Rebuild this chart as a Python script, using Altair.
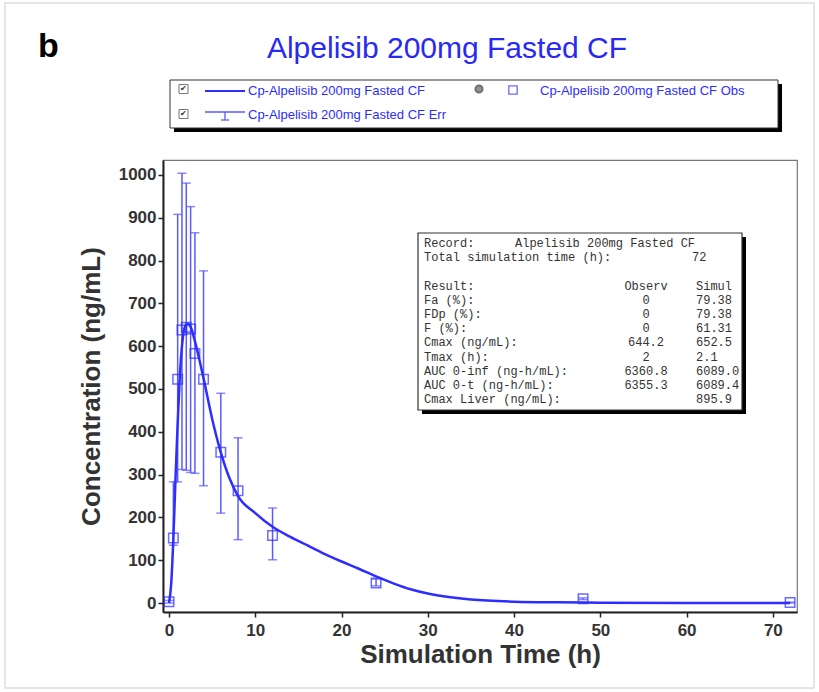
import altair as alt
import pandas as pd

# ---------------- data ----------------
obs_time = [0, 0.5, 1, 1.5, 2, 2.5, 3, 4, 6, 8, 12, 24, 48, 72]
obs_conc = [3, 152, 523, 638, 644, 640, 583, 523, 352, 262, 158, 47, 10, 1]
obs_lo   = [0, 135, 283, 312, 310, 305, 303, 274, 210, 148, 101, 40, 8, 0]
obs_hi   = [6, 283, 908, 1004, 981, 926, 865, 776, 490, 386, 222, 56, 12, 2]

sim_time = [0, 0.25, 0.5, 0.75, 1, 1.25, 1.5, 1.75, 2.1, 2.5, 3, 3.5, 4, 5, 6, 7, 8,
            10, 12, 14, 16, 18, 20, 22, 24, 26, 28, 30, 32, 35, 40, 45, 50, 60, 72]
sim_conc = [0, 45, 150, 290, 420, 530, 600, 640, 652.5, 645, 612, 570, 525, 430, 352, 292, 250,
            210, 178, 155, 135, 115, 97, 80, 62, 46, 32, 22, 15, 8, 3, 1.5, 0.8, 0.3, 0.1]

x_ticks = [0, 10, 20, 30, 40, 50, 60, 70]
y_ticks = [0, 100, 200, 300, 400, 500, 600, 700, 800, 900, 1000]

title_text = "Alpelisib 200mg Fasted CF"
legend_labels = ["Cp-Alpelisib 200mg Fasted CF",
                 "Cp-Alpelisib 200mg Fasted CF Obs",
                 "Cp-Alpelisib 200mg Fasted CF Err"]

info_labels = ["Record:", "Total simulation time (h):", "", "Result:", "Fa (%):", "FDp (%):",
               "F (%):", "Cmax (ng/mL):", "Tmax (h):", "AUC 0-inf (ng-h/mL):",
               "AUC 0-t (ng-h/mL):", "Cmax Liver (ng/mL):"]
info_obs = ["", "", "", "Observ", "0", "0", "0", "644.2", "2", "6360.8", "6355.3", ""]
info_sim = ["", "", "", "Simul", "79.38", "79.38", "61.31", "652.5", "2.1", "6089.0", "6089.4", "895.9"]
info_record = "Alpelisib 200mg Fasted CF"
info_total = "72"

# ---------------- styling ----------------
BLUE = "#2d2dff"
ERR = "#5a5aff"
W, H = 634, 452
FONT = "Liberation Sans"
MONO = "Liberation Mono"

obs_df = pd.DataFrame({"t": obs_time, "c": obs_conc, "lo": obs_lo, "hi": obs_hi})
sim_df = pd.DataFrame({"t": sim_time, "c": sim_conc})
dummy = pd.DataFrame({"d": [0]})

xs = alt.Scale(domain=[-0.7, 72.8], nice=False, zero=False)
ys = alt.Scale(domain=[-21, 1035], nice=False, zero=False)

xaxis = alt.Axis(values=x_ticks, title="Simulation Time (h)", grid=False, tickSize=5,
                 labelFontSize=17, labelFontWeight="bold", labelColor="#333", labelPadding=5,
                 titleFontSize=26, titleFontWeight="bold", titleColor="#333", titlePadding=3,
                 domainColor="#222", domainWidth=2, tickColor="#222", tickWidth=1.5,
                 labelFont=FONT, titleFont=FONT, format="d")
yaxis = alt.Axis(values=y_ticks, title="Concentration (ng/mL)", grid=False, tickSize=5,
                 labelFontSize=17, labelFontWeight="bold", labelColor="#333", labelPadding=2,
                 titleFontSize=26, titleFontWeight="bold", titleColor="#333", titlePadding=14,
                 domainColor="#222", domainWidth=2, tickColor="#222", tickWidth=1.5,
                 labelFont=FONT, titleFont=FONT, format="d")


def X(f):
    return alt.X(f, type="quantitative", scale=xs, axis=xaxis)


def Y(f):
    return alt.Y(f, type="quantitative", scale=ys, axis=yaxis)


line = alt.Chart(sim_df).mark_line(color=BLUE, strokeWidth=2.5, interpolate="monotone").encode(
    x=X("t"), y=Y("c"))
err = alt.Chart(obs_df).mark_rule(color=ERR, strokeWidth=1.5).encode(
    x=X("t"), y=Y("lo"), y2="hi")
cap_lo = alt.Chart(obs_df).mark_tick(color=ERR, orient="horizontal", size=9, thickness=1.5).encode(
    x=X("t"), y=Y("lo"))
cap_hi = alt.Chart(obs_df).mark_tick(color=ERR, orient="horizontal", size=9, thickness=1.5).encode(
    x=X("t"), y=Y("hi"))
pts = alt.Chart(obs_df).mark_point(shape="square", filled=False, size=90, strokeWidth=1.5,
                                   color=BLUE).encode(x=X("t"), y=Y("c"))


def rect(x1, x2, y1, y2, fill="white", stroke=None, sw=1.0, opacity=1.0):
    kw = dict(fill=fill, opacity=opacity)
    if stroke:
        kw.update(stroke=stroke, strokeWidth=sw)
    return alt.Chart(dummy).mark_rect(**kw).encode(
        x=alt.value(x1), x2=alt.value(x2), y=alt.value(y1), y2=alt.value(y2))


def seg(x1, x2, y1, y2, color=BLUE, sw=2.0):
    return alt.Chart(dummy).mark_rule(color=color, strokeWidth=sw).encode(
        x=alt.value(x1), x2=alt.value(x2), y=alt.value(y1), y2=alt.value(y2))


def txt(s, x, y, size=13, color=BLUE, align="left", baseline="middle", font=FONT,
        weight="normal"):
    return alt.Chart(dummy).mark_text(text=s, fontSize=size, color=color, align=align,
                                      baseline=baseline, font=font, fontWeight=weight).encode(
        x=alt.value(x), y=alt.value(y))


# outer faint border
deco = [rect(-158, 651, -157, 528, fill="transparent", stroke="#dddddd", sw=1.5)]

# title + panel letter
deco += [txt(title_text, 284, -111, size=30, color="#2929f5", align="center"),
         txt("b", -125, -113, size=34, color="black", weight="bold")]

# legend box
deco += [rect(11, 619, -76, -28, fill="black"),
         rect(7, 615, -80, -32, fill="white", stroke="#333", sw=1)]
# checkboxes
for cy in (-71, -46):
    deco += [rect(16, 25, cy - 4.5, cy + 4.5, fill="white", stroke="#777", sw=1),
             txt("\u2714", 20.5, cy, size=8, color="#333", align="center")]
deco += [alt.Chart(dummy).mark_point(shape="circle", size=50, filled=True, color="#666",
                                     stroke="#333").encode(x=alt.value(316), y=alt.value(-71))]
# legend symbols
deco += [seg(42, 82, -69, -69, sw=2),
         alt.Chart(dummy).mark_point(shape="square", filled=False, size=70, strokeWidth=1.3,
                                     color=BLUE).encode(x=alt.value(350), y=alt.value(-70)),
         seg(42, 82, -48, -48, color=ERR, sw=1.3),
         seg(62, 62, -48, -40, color=ERR, sw=1.3),
         seg(58, 66, -40, -40, color=ERR, sw=1.3)]
deco += [txt(legend_labels[0], 85, -69, size=13),
         txt(legend_labels[1], 377, -69, size=13),
         txt(legend_labels[2], 85, -45, size=13)]

# info box
deco += [rect(259, 583, 77, 254, fill="black"),
         rect(255, 579, 73, 250, fill="white", stroke="#333", sw=1.2)]
LH = 14.2
first = 83
FS = 12
for i in range(len(info_labels)):
    yy = first + i * LH
    if info_labels[i]:
        deco.append(txt(info_labels[i], 261, yy, size=FS, color="#333", font=MONO))
    if info_obs[i]:
        deco.append(txt(info_obs[i], 483, yy, size=FS, color="#333", font=MONO, align="center"))
    if info_sim[i]:
        deco.append(txt(info_sim[i], 533, yy, size=FS, color="#333", font=MONO))
deco += [txt(info_record, 352, first, size=FS, color="#333", font=MONO),
         txt(info_total, 529, first + LH, size=FS, color="#333", font=MONO)]

chart = alt.layer(err, cap_lo, cap_hi, line, pts, *deco).properties(
    width=W, height=H,
    autosize=alt.AutoSizeParams(type="none"),
    padding={"left": 163, "top": 160, "right": 22, "bottom": 80},
    background="white",
).configure_view(stroke="#777", strokeWidth=1.2)

chart.save("out.html", embed_options={"renderer": "svg", "actions": False})
